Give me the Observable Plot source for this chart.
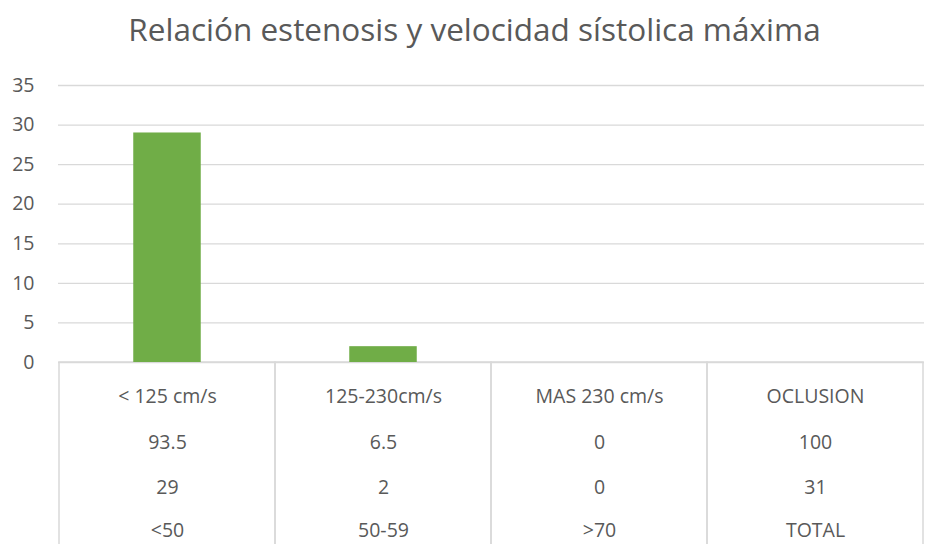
<!DOCTYPE html>
<html>
<head>
<meta charset="utf-8">
<script src="https://cdn.jsdelivr.net/npm/d3@7"></script>
<script src="https://cdn.jsdelivr.net/npm/@observablehq/plot@0.6"></script>
<style>
  html, body { margin: 0; padding: 0; background: #fff; }
  #chart svg { display: block; }
</style>
</head>
<body>
<div id="chart"></div>
<script>
const title = "Relación estenosis y velocidad sístolica máxima";
const categories = ["<50", "50-59", ">70", "TOTAL"];
const velocity = ["< 125 cm/s", "125-230cm/s", "MAS 230 cm/s", "OCLUSION"];
const percent = [93.5, 6.5, 0, 100];
const counts = [29, 2, 0, 31];
const barValues = [29, 2, 0, null];
const yTicks = [0, 5, 10, 15, 20, 25, 30, 35];

const font = "'Open Sans', sans-serif";
const textColor = "#595959";
const gridColor = "#d9d9d9";

const bars = categories.map((c, i) => ({cat: c, value: barValues[i]})).filter(d => d.value != null);
const table = categories.map((c, i) => ({cat: c, vel: velocity[i], pct: String(percent[i]), n: String(counts[i])}));

const rowText = (field, dy) => Plot.text(table, {
  x: "cat", text: field, frameAnchor: "bottom", dy, lineAnchor: "middle",
  fill: textColor, fontSize: 19.5, fontFamily: font
});

const chart = Plot.plot({
  width: 927,
  height: 544,
  marginTop: 85,
  marginBottom: 182,
  marginLeft: 58,
  marginRight: 3,
  style: {fontFamily: font, background: "#fff"},
  x: {domain: categories, padding: 0, axis: null, label: null},
  y: {domain: [0, 35], axis: null, label: null},
  marks: [
    Plot.gridY(yTicks, {stroke: gridColor, strokeOpacity: 1, strokeWidth: 1.3}),
    Plot.axisY(yTicks, {tickSize: 0, tickPadding: 24, fontSize: 19.5, fill: textColor, fontFamily: font, label: null}),
    // multi-level category table cells
    Plot.barY(table, {x: "cat", y1: 0, y2: -24, fill: "none", stroke: gridColor, strokeWidth: 1.5}),
    Plot.barY(bars, {x: "cat", y: "value", fill: "#70ad47", insetLeft: 74.25, insetRight: 74.25}),
    rowText("vel", 34),
    rowText("pct", 80),
    rowText("n", 125),
    rowText("cat", 168),
    Plot.text([title], {frameAnchor: "top", dx: -17, dy: -45, lineAnchor: "bottom",
      fill: textColor, fontSize: 31.5, fontFamily: font})
  ]
});
document.getElementById("chart").appendChild(chart);
</script>
</body>
</html>
